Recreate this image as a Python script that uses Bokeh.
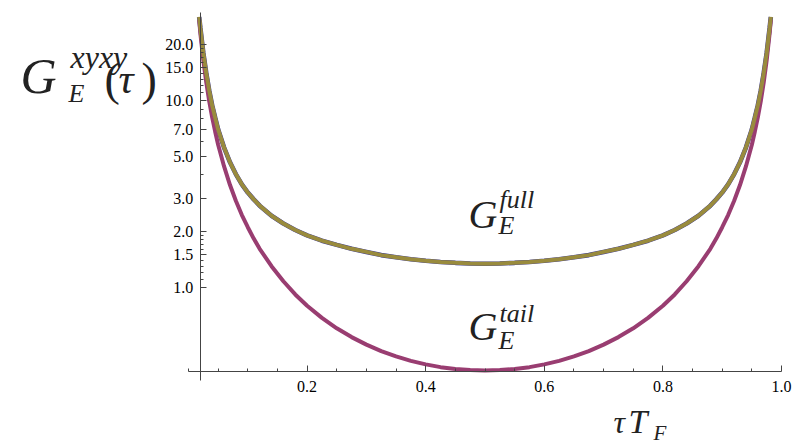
from bokeh.plotting import figure
from bokeh.models import Range1d, FixedTicker, PrintfTickFormatter, Label, LinearAxis, LogAxis
from bokeh.embed import file_html
from bokeh.resources import INLINE

# ---- data ----
tau = [0.018, 0.02, 0.025, 0.03, 0.035, 0.04, 0.045, 0.05, 0.06, 0.07, 0.08, 0.09,
       0.10, 0.11, 0.12, 0.14, 0.16, 0.18, 0.20, 0.225, 0.25, 0.275, 0.30, 0.325,
       0.35, 0.375, 0.40, 0.425, 0.45, 0.475, 0.50,
       0.525, 0.55, 0.575, 0.60, 0.625, 0.65, 0.675, 0.70, 0.725, 0.75, 0.775,
       0.80, 0.82, 0.84, 0.86, 0.88, 0.89, 0.90, 0.91, 0.92, 0.93, 0.94, 0.95,
       0.955, 0.96, 0.965, 0.97, 0.975, 0.98, 0.982]

g_full = [28.0, 24.5, 18.0, 14.0, 11.3, 9.4, 8.1, 7.0, 5.6, 4.67, 4.03, 3.56,
          3.22, 2.96, 2.74, 2.42, 2.20, 2.03, 1.90, 1.78, 1.69, 1.61, 1.55, 1.49,
          1.45, 1.415, 1.39, 1.37, 1.355, 1.345, 1.34,
          1.345, 1.355, 1.37, 1.39, 1.415, 1.45, 1.49, 1.55, 1.61, 1.69, 1.78,
          1.90, 2.03, 2.20, 2.42, 2.74, 2.96, 3.22, 3.56, 4.03, 4.67, 5.6, 7.0,
          8.1, 9.4, 11.3, 14.0, 18.0, 24.5, 28.0]

g_tail = [27.0, 22.9, 16.4, 12.5, 9.9, 8.1, 6.81, 5.8, 4.44, 3.53, 2.90, 2.44,
          2.10, 1.826, 1.61, 1.30, 1.08, 0.918, 0.799, 0.688, 0.605, 0.543, 0.495, 0.457,
          0.428, 0.405, 0.388, 0.375, 0.367, 0.362, 0.360,
          0.362, 0.367, 0.375, 0.388, 0.405, 0.428, 0.457, 0.495, 0.543, 0.605, 0.688,
          0.799, 0.918, 1.08, 1.30, 1.61, 1.826, 2.10, 2.44, 2.90, 3.53, 4.44, 5.8,
          6.81, 8.1, 9.9, 12.5, 16.4, 22.9, 27.0]

x_ticks = [0.2, 0.4, 0.6, 0.8, 1.0]
x_minor = [0.0, 0.05, 0.1, 0.15, 0.25, 0.3, 0.35, 0.45, 0.5, 0.55, 0.65, 0.7, 0.75, 0.85, 0.9, 0.95]
y_ticks = [1.0, 1.5, 2.0, 3.0, 5.0, 7.0, 10.0, 15.0, 20.0]
y_minor = [1.1, 1.2, 1.3, 1.4, 1.6, 1.7, 1.8, 1.9, 4.0, 6.0, 8.0, 9.0,
           11.0, 12.0, 13.0, 14.0, 16.0, 17.0, 18.0, 19.0]

BLUE = "#3F3D99"
PURPLE = "#993D71"
OLIVE = "#998B3D"
FONT = "Liberation Serif"

# picture pixel -> data helpers (frame fills the whole canvas)
X0_PX, X_SCALE = 188.0, 593.0          # tau=0 at x 188, 593 px per unit
Y1_PX, Y_DEC = 287.0, 187.0            # G=1 at y 287, 187 px per decade


def px_x(ix):
    return (ix - X0_PX) / X_SCALE


def px_y(iy):
    return 10 ** ((Y1_PX - iy) / Y_DEC)


W, H = 809, 447
p = figure(width=W, height=H, y_axis_type="log",
           x_range=Range1d(px_x(0), px_x(W)),
           y_range=Range1d(px_y(H), px_y(0)),
           x_axis_location=None, y_axis_location=None,
           output_backend="svg", toolbar_location=None,
           min_border=0, min_border_left=0, min_border_right=0,
           min_border_top=0, min_border_bottom=0)
p.outline_line_color = None
p.xgrid.visible = False
p.ygrid.visible = False
p.background_fill_color = "white"
p.border_fill_color = "white"

p.line(tau, g_full, line_color=BLUE, line_width=4.6)
p.line(tau, g_tail, line_color=PURPLE, line_width=4)
p.line(tau, g_full, line_color=OLIVE, line_width=4)

xa = LinearAxis(fixed_location=px_y(371), bounds=(0.0, 1.0),
                ticker=FixedTicker(ticks=x_ticks, minor_ticks=x_minor),
                formatter=PrintfTickFormatter(format="%.1f"))
ya = LogAxis(fixed_location=0.02, bounds=(px_y(380), px_y(12)),
             ticker=FixedTicker(ticks=y_ticks, minor_ticks=y_minor),
             formatter=PrintfTickFormatter(format="%.1f"))
for ax in (xa, ya):
    ax.axis_line_color = "#444444"
    ax.axis_line_width = 1
    ax.major_tick_line_color = "#444444"
    ax.minor_tick_line_color = "#444444"
    ax.major_tick_in = 6
    ax.major_tick_out = 0
    ax.minor_tick_in = 3
    ax.minor_tick_out = 0
    ax.major_label_text_font = FONT
    ax.major_label_text_font_size = "16px"
    ax.major_label_text_color = "black"
xa.major_label_standoff = 9
ya.major_label_standoff = 7
p.add_layout(xa, "below")
p.add_layout(ya, "left")


def add_text(txt, ix, base_y, size_px, style="italic"):
    # the label anchor sits ~0.35 em above the drawn baseline
    iy = base_y - 0.35 * size_px
    p.add_layout(Label(x=px_x(ix), y=px_y(iy), text=txt, text_font=FONT,
                       text_font_size=f"{size_px}px", text_font_style=style,
                       text_color="#222222", text_align="left",
                       text_baseline="alphabetic"))


# y-axis label  G_E^{xyxy}(tau)
add_text("G", 20, 93, 50)
add_text("xyxy", 70, 68, 32)
add_text("E", 68, 102, 26)
add_text("(", 104, 95, 46, "normal")
add_text("τ", 118, 93, 42)
add_text(")", 141, 95, 46, "normal")

# curve labels
add_text("G", 468, 228, 40)
add_text("full", 499, 208, 26)
add_text("E", 498, 234, 26)
add_text("G", 468, 340, 40)
add_text("tail", 499, 322, 26)
add_text("E", 498, 349, 26)

# x-axis label  tau T_F
add_text("τ", 613, 433, 32)
add_text("T", 628, 433, 34)
add_text("F", 653, 440, 21)

open("out.html", "w").write(file_html(p, INLINE))
